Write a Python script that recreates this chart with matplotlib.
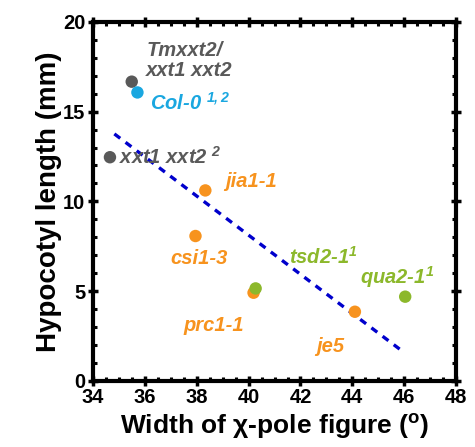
import matplotlib
matplotlib.use('Agg')
import matplotlib.pyplot as plt
from matplotlib.ticker import MultipleLocator

plt.rcParams['font.family'] = ['Liberation Sans', 'DejaVu Sans']
plt.rcParams['mathtext.fontset'] = 'custom'
plt.rcParams['mathtext.rm'] = 'Liberation Sans:bold'
plt.rcParams['mathtext.bf'] = 'Liberation Sans:italic:bold'

# data
names = ['Tmxxt2/xxt1 xxt2', 'Col-0', 'xxt1 xxt2', 'jia1-1', 'csi1-3',
         'prc1-1', 'tsd2-1', 'je5', 'qua2-1']
width = [35.49, 35.71, 34.65, 38.33, 37.95, 40.19, 40.27, 44.10, 46.04]
hypo = [16.67, 16.07, 12.46, 10.61, 8.07, 4.91, 5.15, 3.85, 4.69]
colors = ['#595959', '#1aa7e0', '#595959', '#f7931e', '#f7931e',
          '#f7931e', '#8cb82b', '#f7931e', '#8cb82b']
fit_x = [34.82, 45.87]
fit_y = [13.76, 1.72]

fig = plt.figure(figsize=(4.75, 4.47), dpi=100)
ax = fig.add_axes([0.196, 0.148, 0.764, 0.803])

ax.plot(fit_x, fit_y, color='#0000cc', lw=2.4, ls=(0, (2.2, 2.0)), zorder=2)
ax.scatter(width, hypo, s=80, c=colors, zorder=3, linewidths=0)

# labels next to the points
lbl = dict(fontsize=14.5, fontweight='bold', fontstyle='italic', va='center')
sup1 = '$\\mathbf{^{1}}$'
ax.text(36.05, 17.85, 'Tmxxt2/\nxxt1 xxt2', color='#595959', linespacing=1.1, **lbl)
ax.text(36.2, 15.5, 'Col-0 $\\mathbf{^{1,2}}$', color='#1aa7e0', **lbl)
ax.text(35.0, 12.5, 'xxt1 xxt2 $\\mathbf{^{2}}$', color='#595959', **lbl)
ax.text(39.1, 11.1, 'jia1-1', color='#f7931e', **lbl)
ax.text(37.0, 6.8, 'csi1-3', color='#f7931e', **lbl)
ax.text(41.55, 6.9, 'tsd2-1' + sup1, color='#8cb82b', **lbl)
ax.text(44.3, 5.8, 'qua2-1' + sup1, color='#8cb82b', **lbl)
ax.text(37.5, 3.1, 'prc1-1', color='#f7931e', **lbl)
ax.text(42.6, 1.9, 'je5', color='#f7931e', **lbl)

ax.set_xlim(34, 48)
ax.set_ylim(0, 20)
ax.xaxis.set_major_locator(MultipleLocator(2))
ax.xaxis.set_minor_locator(MultipleLocator(0.5))
ax.yaxis.set_major_locator(MultipleLocator(5))
ax.yaxis.set_minor_locator(MultipleLocator(1))
ax.tick_params(which='major', direction='inout', length=7, width=2.5,
               top=True, right=True, labelsize=14.5, pad=2)
ax.tick_params(which='minor', direction='in', length=3, width=2.2,
               top=True, right=True)
for lab in ax.get_xticklabels() + ax.get_yticklabels():
    lab.set_fontweight('bold')
for sp in ax.spines.values():
    sp.set_linewidth(3)

ax.set_xlabel('Width of \u03c7-pole figure ($^{\\mathregular{o}}$)', fontsize=19,
              fontweight='bold', labelpad=3)
ax.set_ylabel('Hypocotyl length (mm)', fontsize=20, fontweight='bold', labelpad=1)

fig.savefig('out.png', dpi=100)
